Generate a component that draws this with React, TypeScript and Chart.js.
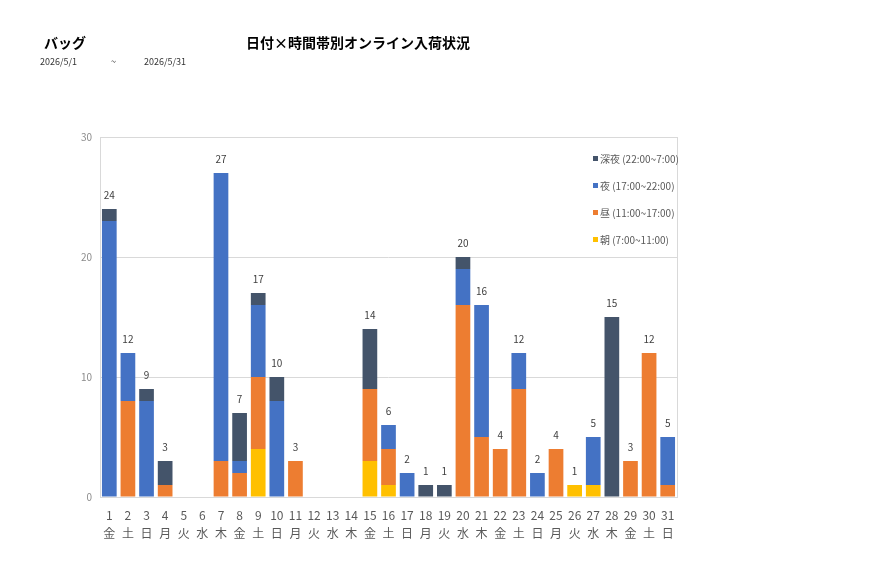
import React, { useEffect, useRef } from "react";
import { Chart, registerables } from "chart.js";

Chart.register(...registerables);

const days = ["1","2","3","4","5","6","7","8","9","10","11","12","13","14","15","16","17","18","19","20","21","22","23","24","25","26","27","28","29","30","31"];
const weekdays = ["金","土","日","月","火","水","木","金","土","日","月","火","水","木","金","土","日","月","火","水","木","金","土","日","月","火","水","木","金","土","日"];

// 時間帯別入荷数
const morning = [0,0,0,0,0,0,0,0,4,0,0,0,0,0,3,1,0,0,0,0,0,0,0,0,0,1,1,0,0,0,0];
const daytime = [0,8,0,1,0,0,3,2,6,0,3,0,0,0,6,3,0,0,0,16,5,4,9,0,4,0,0,0,3,12,1];
const evening = [23,4,8,0,0,0,24,1,6,8,0,0,0,0,0,2,2,0,0,3,11,0,3,2,0,0,4,0,0,0,4];
const lateNight = [1,0,1,2,0,0,0,4,1,2,0,0,0,0,5,0,0,1,1,1,0,0,0,0,0,0,0,15,0,0,0];

const seriesNames = ["朝 (7:00~11:00)", "昼 (11:00~17:00)", "夜 (17:00~22:00)", "深夜 (22:00~7:00)"];
const seriesColors = ["#FFC000", "#ED7D31", "#4472C4", "#44546A"];
const yTicks = [0, 10, 20, 30];

const FONT = "'Noto Sans CJK JP', 'Noto Sans', sans-serif";

const headerPlugin = {
  id: "header",
  afterDraw(chart: any) {
    const ctx = chart.ctx;
    ctx.save();
    ctx.fillStyle = "#000";
    ctx.textBaseline = "middle";
    ctx.font = `bold 14px ${FONT}`;
    ctx.textAlign = "left";
    ctx.fillText("バッグ", 44, 43);
    ctx.textAlign = "center";
    ctx.fillText("日付×時間帯別オンライン入荷状況", 358, 43);
    ctx.font = `9px ${FONT}`;
    ctx.textAlign = "left";
    ctx.fillStyle = "#333";
    ctx.fillText("2026/5/1", 40, 62);
    ctx.fillText("~", 111, 62);
    ctx.fillText("2026/5/31", 144, 62);
    ctx.restore();
  },
};

const framePlugin = {
  id: "frame",
  beforeDatasetsDraw(chart: any) {
    const { ctx, chartArea } = chart;
    ctx.save();
    ctx.strokeStyle = "#d9d9d9";
    ctx.lineWidth = 1;
    ctx.strokeRect(Math.round(chartArea.left) + 0.5, Math.round(chartArea.top) + 0.5,
      Math.round(chartArea.right - chartArea.left), Math.round(chartArea.bottom - chartArea.top));
    ctx.restore();
  },
};

const totalsPlugin = {
  id: "totals",
  afterDatasetsDraw(chart: any) {
    const { ctx } = chart;
    const x = chart.scales.x;
    const y = chart.scales.y;
    ctx.save();
    ctx.font = `10px ${FONT}`;
    ctx.fillStyle = "#404040";
    ctx.textAlign = "center";
    ctx.textBaseline = "middle";
    days.forEach((_, i) => {
      const total = morning[i] + daytime[i] + evening[i] + lateNight[i];
      if (total <= 0) return;
      ctx.fillText(String(total), x.getPixelForValue(i), y.getPixelForValue(total) - 14);
    });
    ctx.restore();
  },
};

const legendPlugin = {
  id: "cornerLegend",
  afterDraw(chart: any) {
    const { ctx } = chart;
    const ds = chart.data.datasets;
    ctx.save();
    ctx.font = `10px ${FONT}`;
    ctx.textBaseline = "middle";
    ctx.textAlign = "left";
    const order = [3, 2, 1, 0];
    order.forEach((k, j) => {
      const cy = 159 + j * 27;
      ctx.fillStyle = ds[k].backgroundColor;
      ctx.fillRect(593, cy - 3, 5, 5);
      ctx.fillStyle = "#595959";
      ctx.fillText(ds[k].label, 600, cy);
    });
    ctx.restore();
  },
};

export default function App() {
  const ref = useRef<HTMLCanvasElement>(null);

  useEffect(() => {
    if (!ref.current) return;
    const values = [morning, daytime, evening, lateNight];
    const chart = new Chart(ref.current, {
      type: "bar",
      data: {
        labels: days.map((d, i) => [d, weekdays[i]]),
        datasets: values.map((v, k) => ({
          label: seriesNames[k],
          data: v,
          backgroundColor: seriesColors[k],
          borderWidth: 0,
          barPercentage: 0.79,
          categoryPercentage: 1,
        })),
      },
      options: {
        responsive: false,
        animation: false,
        layout: { padding: { top: 137, right: 200, left: 0, bottom: 0 } },
        plugins: {
          legend: { display: false },
          tooltip: { enabled: false },
        },
        scales: {
          x: {
            stacked: true,
            grid: { display: false, drawTicks: false },
            border: { display: false },
            ticks: {
              color: "#595959",
              font: { family: FONT, size: 12, lineHeight: 1.5 },
              padding: 9,
              maxRotation: 0,
              autoSkip: false,
            },
            afterFit(scale: any) { scale.height = 81; },
          },
          y: {
            stacked: true,
            min: 0,
            max: 30,
            afterBuildTicks(scale: any) { scale.ticks = yTicks.map((v) => ({ value: v })); },
            grid: { color: "#d9d9d9", drawTicks: false },
            border: { display: false },
            ticks: {
              color: "#8c8c8c",
              font: { family: FONT, size: 10 },
              padding: 8,
            },
            afterFit(scale: any) { scale.width = 100; },
          },
        },
      },
      plugins: [framePlugin, totalsPlugin, legendPlugin, headerPlugin],
    });
    return () => chart.destroy();
  }, []);

  return (
    <div style={{ position: "absolute", left: 0, top: 0, width: 877, height: 578, background: "#fff" }}>
      <canvas ref={ref} width={877} height={578} style={{ width: 877, height: 578 }} />
    </div>
  );
}
